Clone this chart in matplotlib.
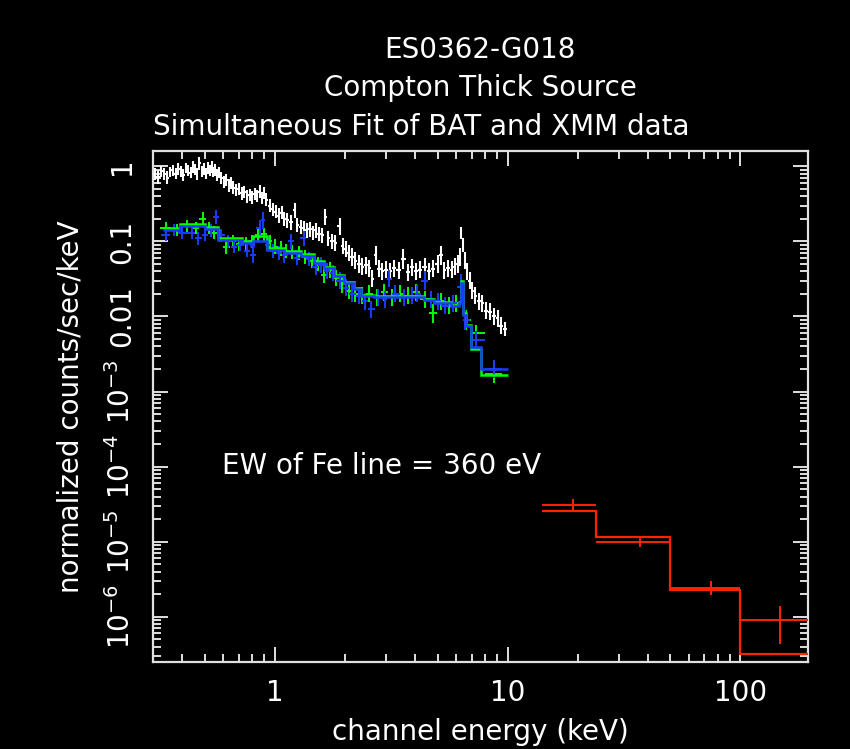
import matplotlib
matplotlib.use("Agg")
import matplotlib.pyplot as plt
import numpy as np
from matplotlib.ticker import FixedLocator, LogLocator, NullFormatter

# XMM pn spectrum (white)
pn_energy = [0.305, 0.315, 0.325, 0.335, 0.345, 0.355, 0.365, 0.375, 0.385, 0.395,
             0.405, 0.415, 0.425, 0.435, 0.445, 0.455, 0.465, 0.475, 0.485, 0.495,
             0.505, 0.515, 0.525, 0.535, 0.545, 0.555, 0.565, 0.575, 0.59, 0.605,
             0.62, 0.635, 0.65, 0.665, 0.68, 0.70, 0.72, 0.74, 0.76, 0.78,
             0.80, 0.82, 0.84, 0.86, 0.88, 0.90, 0.92, 0.95, 0.98, 1.01,
             1.04, 1.07, 1.10, 1.13, 1.17, 1.22, 1.25, 1.29, 1.33, 1.37,
             1.42, 1.46, 1.50, 1.55, 1.60, 1.65, 1.70, 1.76, 1.82, 1.90,
             1.96, 2.02, 2.08, 2.15, 2.22, 2.30, 2.38, 2.46, 2.55, 2.62,
             2.71, 2.80, 2.90, 3.00, 3.12, 3.25, 3.40, 3.57, 3.72, 3.88,
             4.05, 4.20, 4.40, 4.60, 4.80, 5.00, 5.16, 5.35, 5.55, 5.75,
             5.95, 6.10, 6.22, 6.32, 6.42, 6.55, 6.70, 6.88, 7.05, 7.25,
             7.50, 7.80, 8.10, 8.40, 8.70, 9.05, 9.40, 9.75]
pn_flux = [0.80, 0.72, 0.86, 0.78, 0.70, 0.84, 0.88, 0.80, 0.92, 0.85,
           0.76, 0.95, 0.88, 0.82, 0.97, 0.90, 0.78, 1.10, 0.86, 0.92,
           0.80, 0.95, 0.88, 0.98, 0.84, 0.90, 0.76, 0.82, 0.70, 0.62,
           0.66, 0.55, 0.60, 0.52, 0.48, 0.50, 0.44, 0.46, 0.40, 0.42,
           0.38, 0.43, 0.40, 0.46, 0.38, 0.44, 0.36, 0.30, 0.27, 0.25,
           0.22, 0.24, 0.20, 0.19, 0.18, 0.26, 0.165, 0.155, 0.15, 0.14,
           0.145, 0.13, 0.14, 0.125, 0.12, 0.21, 0.11, 0.10, 0.095, 0.16,
           0.088, 0.080, 0.070, 0.062, 0.055, 0.050, 0.046, 0.048, 0.044, 0.032,
           0.065, 0.043, 0.040, 0.042, 0.040, 0.044, 0.041, 0.058, 0.039, 0.045,
           0.040, 0.042, 0.046, 0.040, 0.043, 0.050, 0.065, 0.041, 0.044, 0.042,
           0.046, 0.050, 0.062, 0.13, 0.09, 0.055, 0.040, 0.030, 0.022, 0.019,
           0.016, 0.015, 0.012, 0.0115, 0.010, 0.0095, 0.0075, 0.0068]
pn_relerr = [0.20, 0.22, 0.18, 0.20, 0.22, 0.18, 0.20, 0.18, 0.20, 0.18,
             0.20, 0.18, 0.20, 0.18, 0.20, 0.18, 0.20, 0.22, 0.18, 0.20,
             0.18, 0.20, 0.18, 0.20, 0.18, 0.20, 0.20, 0.18, 0.20, 0.20,
             0.20, 0.22, 0.20, 0.22, 0.20, 0.20, 0.22, 0.20, 0.22, 0.20,
             0.22, 0.20, 0.20, 0.22, 0.20, 0.20, 0.22, 0.22, 0.22, 0.22,
             0.25, 0.22, 0.25, 0.25, 0.25, 0.25, 0.25, 0.25, 0.25, 0.25,
             0.25, 0.25, 0.25, 0.25, 0.25, 0.28, 0.25, 0.25, 0.28, 0.30,
             0.28, 0.28, 0.28, 0.30, 0.30, 0.30, 0.30, 0.30, 0.30, 0.30,
             0.35, 0.30, 0.30, 0.30, 0.30, 0.30, 0.30, 0.35, 0.30, 0.30,
             0.30, 0.30, 0.30, 0.30, 0.30, 0.30, 0.35, 0.30, 0.30, 0.30,
             0.30, 0.30, 0.30, 0.20, 0.25, 0.30, 0.30, 0.30, 0.30, 0.30,
             0.30, 0.30, 0.30, 0.30, 0.30, 0.30, 0.30, 0.25]

# XMM MOS1 (green) and MOS2 (blue) data
mos1_energy = [0.34, 0.38, 0.42, 0.46, 0.49, 0.52, 0.55, 0.58, 0.62, 0.66,
               0.70, 0.75, 0.80, 0.85, 0.90, 0.95, 1.00, 1.06, 1.12, 1.19,
               1.27, 1.35, 1.44, 1.53, 1.62, 1.72, 1.83, 1.95, 2.08, 2.22,
               2.38, 2.55, 2.75, 2.95, 3.20, 3.45, 3.75, 4.05, 4.40, 4.80,
               5.20, 5.60, 6.00, 6.30, 6.60, 7.30, 8.70]
mos1_flux = [0.15, 0.14, 0.16, 0.15, 0.20, 0.15, 0.13, 0.12, 0.085, 0.10,
             0.092, 0.095, 0.10, 0.12, 0.125, 0.10, 0.085, 0.080, 0.075, 0.072,
             0.070, 0.062, 0.055, 0.050, 0.036, 0.042, 0.033, 0.027, 0.022, 0.020,
             0.019, 0.020, 0.018, 0.021, 0.018, 0.020, 0.019, 0.021, 0.017, 0.011,
             0.016, 0.014, 0.015, 0.025, 0.009, 0.0060, 0.0017]
mos1_relerr = [0.20, 0.20, 0.20, 0.20, 0.22, 0.20, 0.22, 0.22, 0.25, 0.22,
               0.22, 0.22, 0.22, 0.22, 0.22, 0.22, 0.25, 0.25, 0.25, 0.25,
               0.25, 0.25, 0.25, 0.25, 0.30, 0.28, 0.28, 0.30, 0.30, 0.30,
               0.30, 0.30, 0.30, 0.30, 0.30, 0.30, 0.30, 0.30, 0.30, 0.35,
               0.30, 0.30, 0.30, 0.35, 0.35, 0.30, 0.30]

mos2_energy = [0.34, 0.37, 0.40, 0.44, 0.47, 0.50, 0.53, 0.56, 0.59, 0.63,
               0.67, 0.71, 0.76, 0.81, 0.86, 0.89, 0.93, 0.98, 1.04, 1.10,
               1.17, 1.25, 1.33, 1.40, 1.50, 1.58, 1.68, 1.78, 1.90, 2.02,
               2.15, 2.30, 2.45, 2.60, 2.78, 2.98, 3.10, 3.30, 3.60, 3.90,
               4.10, 4.40, 4.70, 5.00, 5.40, 5.80, 6.30, 6.55, 7.30, 8.70]
mos2_flux = [0.12, 0.14, 0.13, 0.13, 0.11, 0.12, 0.14, 0.21, 0.12, 0.10,
             0.085, 0.090, 0.075, 0.065, 0.15, 0.19, 0.090, 0.075, 0.070, 0.065,
             0.10, 0.060, 0.11, 0.058, 0.045, 0.048, 0.040, 0.038, 0.030, 0.024,
             0.020, 0.019, 0.016, 0.0125, 0.018, 0.017, 0.032, 0.020, 0.018, 0.019,
             0.020, 0.030, 0.017, 0.016, 0.014, 0.015, 0.025, 0.009, 0.0049, 0.0020]
mos2_relerr = [0.20, 0.20, 0.20, 0.20, 0.22, 0.20, 0.22, 0.25, 0.22, 0.22,
               0.22, 0.22, 0.22, 0.25, 0.30, 0.28, 0.22, 0.25, 0.25, 0.25,
               0.25, 0.25, 0.25, 0.25, 0.28, 0.28, 0.28, 0.28, 0.30, 0.30,
               0.30, 0.30, 0.30, 0.30, 0.30, 0.30, 0.30, 0.30, 0.30, 0.30,
               0.30, 0.35, 0.30, 0.30, 0.30, 0.30, 0.45, 0.35, 0.30, 0.30]

# folded models for MOS1 / MOS2 (step histograms)
mos_edges = [0.33, 0.39, 0.50, 0.57, 0.72, 0.79, 0.81, 0.93, 1.10, 1.30,
             1.47, 1.62, 1.79, 1.98, 2.18, 2.34, 2.66, 4.36, 4.81, 5.69,
             6.16, 6.29, 6.45, 6.60, 6.94, 7.66, 10.0]
mos1_model = [0.149, 0.169, 0.154, 0.110, 0.100, 0.091, 0.117, 0.081, 0.074, 0.067,
              0.054, 0.046, 0.036, 0.029, 0.024, 0.0196, 0.019, 0.0173, 0.0158, 0.0144,
              0.0158, 0.030, 0.011, 0.0078, 0.0037, 0.00168]
mos2_model = [0.140, 0.159, 0.145, 0.105, 0.095, 0.087, 0.100, 0.078, 0.071, 0.064,
              0.052, 0.044, 0.035, 0.028, 0.023, 0.019, 0.0182, 0.0168, 0.0152, 0.014,
              0.0152, 0.028, 0.0105, 0.0075, 0.0039, 0.00202]

# Swift BAT (red)
bat_edges = [14, 24, 50, 100, 195]
bat_energy = [19, 37, 75, 147.5]
bat_flux = [3.1e-5, 1.0e-5, 2.45e-6, 9.1e-7]
bat_upper = [3.7e-5, 1.17e-5, 3.0e-6, 1.4e-6]
bat_lower = [2.6e-5, 8.6e-6, 1.97e-6, 4.4e-7]
bat_model = [2.6e-5, 1.17e-5, 2.29e-6, 3.2e-7]

ytick_vals = [1e-6, 1e-5, 1e-4, 1e-3, 0.01, 0.1, 1]
ytick_text = ["$10^{-6}$", "$10^{-5}$", "$10^{-4}$", "$10^{-3}$", "0.01", "0.1", "1"]

WHITE = "#ffffff"
GREEN = "#00ff00"
BLUE = "#1a3cff"
RED = "#ff2200"

plt.rcParams["font.family"] = ["DejaVu Sans"]
plt.rcParams["mathtext.default"] = "regular"


def bin_edges(c):
    c = np.asarray(c, dtype=float)
    lc = np.log10(c)
    mid = (lc[1:] + lc[:-1]) / 2
    lo = np.concatenate([[lc[0] - (mid[0] - lc[0])], mid])
    hi = np.concatenate([mid, [lc[-1] + (lc[-1] - mid[-1])]])
    return 10 ** lo, 10 ** hi


def draw_data(ax, e, f, rel, color, lw):
    e = np.asarray(e, dtype=float)
    f = np.asarray(f, dtype=float)
    rel = np.asarray(rel, dtype=float)
    lo, hi = bin_edges(e)
    ax.errorbar(e, f, xerr=[e - lo, hi - e], yerr=[f - f / (1 + rel), f * rel],
                fmt="none", ecolor=color, elinewidth=lw, capsize=0, zorder=3)


def main():
    fig = plt.figure(figsize=(8.5, 7.49), dpi=100, facecolor="black")
    ax = fig.add_axes([153 / 850, 87 / 749, 655 / 850, 511 / 749], facecolor="black")
    ax.set_xscale("log")
    ax.set_yscale("log")
    ax.set_xlim(0.3, 195)
    ax.set_ylim(2.5e-7, 1.6)

    draw_data(ax, pn_energy, pn_flux, pn_relerr, WHITE, 1.5)
    ax.stairs(mos1_model, mos_edges, baseline=None, color=GREEN, lw=1.8, zorder=4)
    draw_data(ax, mos1_energy, mos1_flux, mos1_relerr, GREEN, 1.4)
    ax.stairs(mos2_model, mos_edges, baseline=None, color=BLUE, lw=1.8, zorder=4)
    draw_data(ax, mos2_energy, mos2_flux, mos2_relerr, BLUE, 1.4)

    be = np.asarray(bat_energy)
    bf = np.asarray(bat_flux)
    ax.stairs(bat_model, bat_edges, baseline=None, color=RED, lw=1.6, zorder=4)
    ax.errorbar(be, bf,
                xerr=[be - np.array(bat_edges[:-1]), np.array(bat_edges[1:]) - be],
                yerr=[bf - np.array(bat_lower), np.array(bat_upper) - bf],
                fmt="none", ecolor=RED, elinewidth=1.4, capsize=0, zorder=3)

    for s in ax.spines.values():
        s.set_color("#e0e0e0")
        s.set_linewidth(1.6)

    ax.yaxis.set_major_locator(FixedLocator(ytick_vals))
    ax.set_yticklabels(ytick_text)
    ax.yaxis.set_minor_locator(LogLocator(base=10, subs=np.arange(2, 10), numticks=100))
    ax.yaxis.set_minor_formatter(NullFormatter())
    ax.xaxis.set_major_locator(FixedLocator([1, 10, 100]))
    ax.set_xticklabels(["1", "10", "100"])
    ax.xaxis.set_minor_locator(LogLocator(base=10, subs=np.arange(2, 10), numticks=100))
    ax.xaxis.set_minor_formatter(NullFormatter())

    ax.tick_params(which="both", direction="in", top=True, right=True,
                   color="#e0e0e0", width=1.4, labelcolor="white", labelsize=20)
    ax.tick_params(which="major", length=11)
    ax.tick_params(which="minor", length=5.5)
    ax.tick_params(axis="x", pad=12)
    ax.tick_params(axis="y", pad=12, labelrotation=90)
    for lab in ax.get_yticklabels():
        lab.set_va("center")

    ax.set_xlabel("channel energy (keV)", color="white", fontsize=20, labelpad=8)
    ax.set_ylabel("normalized counts/sec/keV", color="white", fontsize=20, labelpad=16)

    ax.text(0.105, 0.384, "EW of Fe line = 360 eV", transform=ax.transAxes,
            color="white", fontsize=20, va="center", ha="left")

    fig.text(480 / 850, 1 - 50 / 749, "ES0362-G018", color="white", fontsize=20,
             ha="center", va="center")
    fig.text(480 / 850, 1 - 88 / 749, "Compton Thick Source", color="white", fontsize=20,
             ha="center", va="center")
    fig.text(153 / 850, 1 - 127 / 749, "Simultaneous Fit of BAT and XMM data", color="white",
             fontsize=20, ha="left", va="center")

    fig.savefig("out.png", dpi=100, facecolor="black")


if __name__ == "__main__":
    main()
